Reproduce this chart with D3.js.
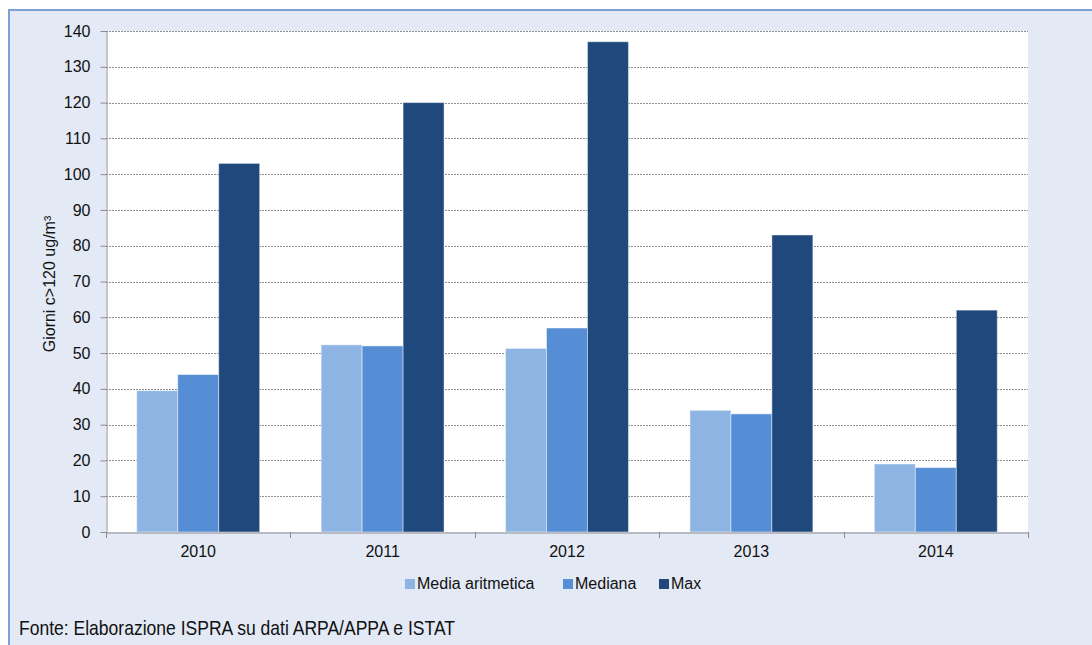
<!DOCTYPE html>
<html>
<head>
<meta charset="utf-8">
<script src="https://cdn.jsdelivr.net/npm/d3@7"></script>
<style>
  body { margin: 0; background: #fff; }
  svg { display: block; font-family: "Liberation Sans", Arial, sans-serif; }
</style>
</head>
<body>
<div id="chart"></div>
<script>
// data
var years = ["2010", "2011", "2012", "2013", "2014"];
var seriesNames = ["Media aritmetica", "Mediana", "Max"];
var mediaValues = [39.5, 52.3, 51.3, 34, 19];
var medianaValues = [44, 52, 57, 33, 18];
var maxValues = [103, 120, 137, 83, 62];
var yTicks = [0, 10, 20, 30, 40, 50, 60, 70, 80, 90, 100, 110, 120, 130, 140];
var colors = ["#8eb4e3", "#558ed5", "#1f497d"];

var width = 1092, height = 645;
var plot = { left: 106, top: 31, right: 1028, bottom: 532 };
var fontSize = 16;

var svg = d3.select("#chart").append("svg")
  .attr("width", width)
  .attr("height", height);

// background frame
svg.append("rect")
  .attr("x", 8).attr("y", 9)
  .attr("width", width - 8).attr("height", height - 9)
  .attr("fill", "#e3e9f5");
svg.append("line")
  .attr("x1", 8).attr("x2", width).attr("y1", 10).attr("y2", 10)
  .attr("stroke", "#7aa0d5").attr("stroke-width", 2);
svg.append("line")
  .attr("x1", 9).attr("x2", 9).attr("y1", 9).attr("y2", height)
  .attr("stroke", "#7aa0d5").attr("stroke-width", 2);

// plot area
svg.append("rect")
  .attr("x", plot.left).attr("y", plot.top)
  .attr("width", plot.right - plot.left).attr("height", plot.bottom - plot.top)
  .attr("fill", "#fff");

var x0 = d3.scaleBand().domain(years).range([plot.left, plot.right]).paddingInner(0).paddingOuter(0);
var x1 = d3.scaleBand().domain(d3.range(3)).range([0, x0.bandwidth()]).paddingOuter(0.75).paddingInner(0);
var y = d3.scaleLinear().domain([0, 140]).range([plot.bottom, plot.top]);

// gridlines
svg.append("g").selectAll("line")
  .data(yTicks.filter(function (d) { return d > 0; }))
  .enter().append("line")
  .attr("x1", plot.left).attr("x2", plot.right)
  .attr("y1", function (d) { return Math.round(y(d)) + 0.5; })
  .attr("y2", function (d) { return Math.round(y(d)) + 0.5; })
  .attr("stroke", "#8f8f8f")
  .attr("stroke-dasharray", "2,1");

// bars
var table = years.map(function (yr, i) {
  return { year: yr, values: [mediaValues[i], medianaValues[i], maxValues[i]] };
});

var groups = svg.append("g").selectAll("g")
  .data(table)
  .enter().append("g")
  .attr("transform", function (d) { return "translate(" + x0(d.year) + ",0)"; });

groups.selectAll("rect")
  .data(function (d) { return d.values.map(function (v, k) { return { k: k, v: v }; }); })
  .enter().append("rect")
  .attr("x", function (d) { return x1(d.k); })
  .attr("width", x1.bandwidth())
  .attr("y", function (d) { return y(d.v); })
  .attr("height", function (d) { return y(0) - y(d.v); })
  .attr("fill", function (d) { return colors[d.k]; })
  .attr("stroke", "#ffffff")
  .attr("stroke-opacity", 0.45)
  .attr("stroke-width", 1);

// y axis
var yAxis = svg.append("g")
  .attr("transform", "translate(" + (plot.left + 0.5) + ",0)")
  .call(d3.axisLeft(y).tickValues(yTicks).tickSize(6).tickPadding(10).tickSizeOuter(0));
yAxis.select(".domain").attr("stroke", "#8c8c8c");
yAxis.selectAll(".tick line").attr("stroke", "#8c8c8c");
yAxis.selectAll(".tick text")
  .attr("font-size", fontSize).attr("fill", "#111")
  .attr("font-family", "Liberation Sans, Arial, sans-serif");

// x axis
var xAxis = svg.append("g")
  .attr("transform", "translate(0," + (plot.bottom + 0.5) + ")")
  .call(d3.axisBottom(x0).tickSize(0).tickPadding(13));
xAxis.select(".domain").attr("stroke", "#8c8c8c");
xAxis.selectAll(".tick text")
  .attr("font-size", fontSize).attr("fill", "#111")
  .attr("font-family", "Liberation Sans, Arial, sans-serif");
svg.append("g").selectAll("line")
  .data(d3.range(years.length + 1))
  .enter().append("line")
  .attr("x1", function (i) { return Math.round(plot.left + i * x0.step()) + 0.5; })
  .attr("x2", function (i) { return Math.round(plot.left + i * x0.step()) + 0.5; })
  .attr("y1", plot.bottom).attr("y2", plot.bottom + 6)
  .attr("stroke", "#8c8c8c");

// y axis title
svg.append("text")
  .attr("transform", "translate(55,284) rotate(-90)")
  .attr("text-anchor", "middle")
  .attr("font-size", fontSize)
  .attr("fill", "#111")
  .text("Giorni c>120 ug/m³");

// legend
var legendX = [405, 563, 659];
var legend = svg.append("g").selectAll("g")
  .data(seriesNames)
  .enter().append("g")
  .attr("transform", function (d, i) { return "translate(" + legendX[i] + ",579)"; });
legend.append("rect")
  .attr("width", 10).attr("height", 10)
  .attr("fill", function (d, i) { return colors[i]; });
legend.append("text")
  .attr("x", 12).attr("y", 10)
  .attr("font-size", fontSize)
  .attr("fill", "#111")
  .text(function (d) { return d; });

// source note
svg.append("text")
  .attr("x", 19).attr("y", 635)
  .attr("font-size", 21)
  .attr("font-family", "Liberation Sans Narrow, Arial Narrow, Liberation Sans, sans-serif")
  .attr("textLength", 436)
  .attr("lengthAdjust", "spacingAndGlyphs")
  .attr("fill", "#111")
  .text("Fonte: Elaborazione ISPRA su dati ARPA/APPA e ISTAT");
</script>
</body>
</html>
